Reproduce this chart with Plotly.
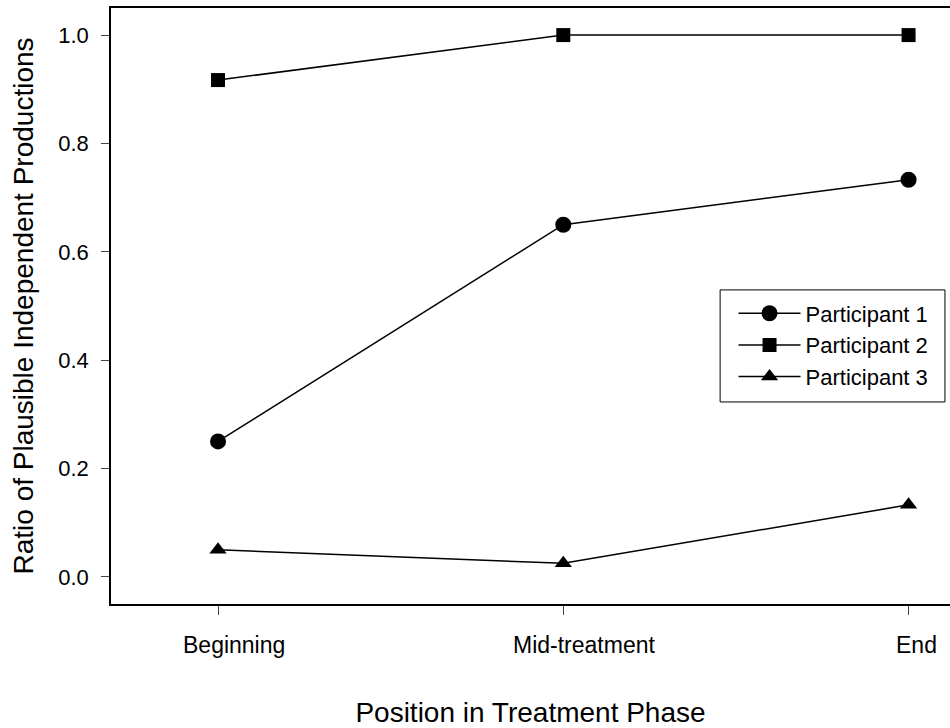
import plotly.graph_objects as go

categories = ["Beginning", "Mid-treatment", "End"]
participant_1 = [0.25, 0.65, 0.733]
participant_2 = [0.917, 1.0, 1.0]
participant_3 = [0.05, 0.025, 0.133]
series_names = ["Participant 1", "Participant 2", "Participant 3"]
y_ticks = [0.0, 0.2, 0.4, 0.6, 0.8, 1.0]

FONT = "Liberation Sans, Arial, sans-serif"
symbols = ["circle", "square", "triangle-up"]
sizes = [16, 14, 15]
# horizontal offsets (px) of category labels relative to their tick, as in the original
label_xshift = [16, 21, 8]

fig = go.Figure()
for name, vals, sym, sz in zip(series_names, [participant_1, participant_2, participant_3], symbols, sizes):
    fig.add_trace(go.Scatter(
        x=list(range(len(categories))), y=vals, name=name, mode="lines+markers",
        line=dict(color="black", width=1.5),
        marker=dict(symbol=sym, size=sz, color="black"),
    ))

annotations = [
    dict(x=i, y=0, xref="x", yref="paper", text=cat, showarrow=False,
         xanchor="center", yanchor="middle", xshift=sh, yshift=-41,
         font=dict(family=FONT, size=23, color="black"))
    for i, (cat, sh) in enumerate(zip(categories, label_xshift))
]

fig.update_layout(
    width=950, height=728,
    margin=dict(l=111, r=0, t=8, b=124),
    paper_bgcolor="white", plot_bgcolor="white",
    font=dict(family=FONT, size=22, color="black"),
    showlegend=True,
    legend=dict(
        x=0.742, y=0.4346, xanchor="left", yanchor="middle",
        bgcolor="rgba(0,0,0,0)", borderwidth=0,
        font=dict(family=FONT, size=22, color="black"),
        itemwidth=62, tracegroupgap=0,
    ),
    shapes=[dict(type="rect", xref="paper", yref="paper",
                 x0=0.726, x1=0.994, y0=0.339, y1=0.527,
                 line=dict(color="black", width=1), fillcolor="rgba(0,0,0,0)")],
    annotations=annotations,
)

fig.update_xaxes(
    range=[-0.31, 2.12], tickmode="array", tickvals=list(range(len(categories))),
    showticklabels=False, ticks="outside", ticklen=9, tickcolor="#444",
    showline=True, linecolor="black", linewidth=1.5, mirror=True,
    showgrid=False, zeroline=False,
    title=dict(text="Position in Treatment Phase", font=dict(family=FONT, size=28), standoff=90),
)
fig.update_yaxes(
    range=[-0.05, 1.05], tickmode="array", tickvals=y_ticks,
    ticktext=[f"{v:.1f}" for v in y_ticks], ticks="outside", ticklen=8, tickcolor="#444",
    tickfont=dict(family=FONT, size=22),
    showline=True, linecolor="black", linewidth=1.5, mirror=False,
    showgrid=False, zeroline=False, ticklabelstandoff=8,
    title=dict(text="Ratio of Plausible Independent Productions", font=dict(family=FONT, size=28), standoff=16),
)

fig.write_html("out.html")
